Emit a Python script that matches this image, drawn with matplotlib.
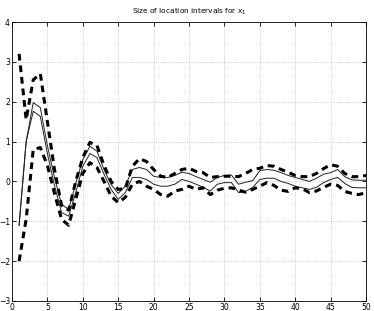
import matplotlib
matplotlib.use("Agg")
import matplotlib.pyplot as plt
import numpy as np

# sample index
steps = np.arange(1, 51)

# outer (dashed) bounds
upper_outer = [3.2, 1.55, 2.55, 2.7, 1.5, 0.3, -0.6, -0.72, 0.0, 0.6,
               0.98, 0.9, 0.4, 0.0, -0.2, -0.18, 0.38, 0.57, 0.5, 0.3,
               0.13, 0.1, 0.2, 0.3, 0.33, 0.25, 0.22, 0.1, 0.12, 0.13,
               0.13, 0.12, 0.2, 0.3, 0.33, 0.4, 0.38, 0.3, 0.23, 0.15,
               0.12, 0.12, 0.2, 0.32, 0.42, 0.38, 0.2, 0.12, 0.12, 0.15]
lower_outer = [-2.0, -0.95, 0.8, 0.85, 0.4, -0.3, -0.95, -1.1, -0.45, 0.2,
               0.47, 0.35, 0.0, -0.37, -0.53, -0.4, -0.07, 0.0, -0.12, -0.2,
               -0.33, -0.37, -0.24, -0.2, -0.12, -0.2, -0.16, -0.33, -0.22, -0.17,
               -0.16, -0.22, -0.27, -0.2, -0.12, -0.03, -0.1, -0.22, -0.25, -0.16,
               -0.18, -0.28, -0.24, -0.15, -0.07, -0.1, -0.25, -0.3, -0.33, -0.28]

# inner (solid) bounds
upper_inner = [-1.1, 1.0, 1.98, 1.85, 0.9, 0.1, -0.58, -0.7, -0.05, 0.55,
               0.88, 0.76, 0.3, -0.08, -0.3, -0.12, 0.3, 0.35, 0.3, 0.13,
               0.1, 0.1, 0.15, 0.23, 0.2, 0.12, 0.05, -0.02, 0.1, 0.15,
               0.16, -0.07, -0.02, 0.02, 0.27, 0.3, 0.28, 0.22, 0.15, 0.1,
               0.05, 0.0, 0.08, 0.18, 0.22, 0.3, 0.12, 0.04, 0.03, 0.03]
lower_inner = [-1.1, 1.0, 1.76, 1.63, 0.7, -0.1, -0.78, -0.87, -0.28, 0.38,
               0.7, 0.6, 0.18, -0.2, -0.45, -0.28, 0.1, 0.1, 0.05, -0.07,
               -0.12, -0.12, -0.07, 0.05, 0.0, -0.07, -0.15, -0.24, -0.07, -0.03,
               -0.03, -0.28, -0.25, -0.15, 0.05, 0.08, 0.08, 0.0, -0.05, -0.12,
               -0.16, -0.2, -0.15, -0.03, 0.05, 0.1, -0.05, -0.15, -0.16, -0.16]

fig = plt.figure(figsize=(3.74, 3.11), dpi=100)
ax = fig.add_axes([12 / 374, 10 / 311, 354 / 374, 279 / 311])

ax.plot(steps, upper_inner, color="#222222", lw=0.7)
ax.plot(steps, lower_inner, color="#222222", lw=0.7)
ax.plot(steps, upper_outer, color="black", lw=2.2, ls=(0, (2.2, 1.6)))
ax.plot(steps, lower_outer, color="black", lw=2.2, ls=(0, (2.2, 1.6)))

ax.set_xlim(0, 50)
ax.set_ylim(-3, 4)
ax.set_xticks(range(0, 51, 5))
ax.set_yticks(range(-3, 5))
ax.grid(True, ls=":", color="#b0b0b0", lw=0.5)
ax.tick_params(direction="in", length=3, width=0.6, labelsize=5.5,
               top=True, right=True, pad=1.5)
for s in ax.spines.values():
    s.set_linewidth(0.6)
ax.set_title("Size of location intervals for x$_1$", fontsize=5.3, pad=6)

fig.savefig("out.png", dpi=100)
